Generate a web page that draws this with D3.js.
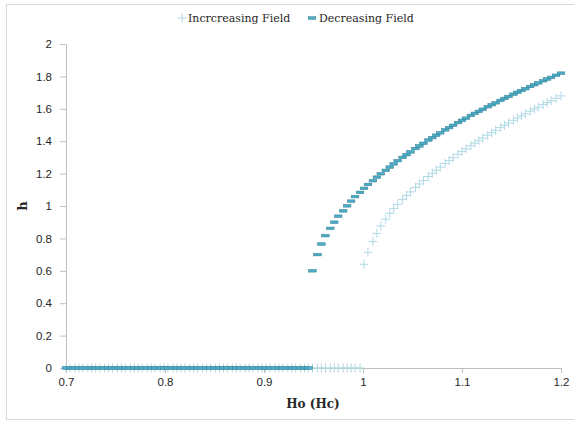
<!DOCTYPE html>
<html>
<head>
<meta charset="utf-8">
<script src="https://cdn.jsdelivr.net/npm/d3@7"></script>
<style>
  body { margin: 0; background: #fff; }
  svg { display: block; font-family: "DejaVu Serif", serif; }
  .axis path, .axis line { stroke: #bfbfbf; }
  .axis text { fill: #262626; font-size: 11.5px; }
</style>
</head>
<body>
<svg id="chart"></svg>
<script>
let width = 574,
height = 422

// applied field Ho (in units of Hc), shared by both sweeps
let fieldValues = [
  0.700, 0.704, 0.709, 0.713, 0.717, 0.722, 0.726, 0.730, 0.734, 0.739,
  0.743, 0.747, 0.752, 0.756, 0.760, 0.765, 0.769, 0.773, 0.777, 0.782,
  0.786, 0.790, 0.795, 0.799, 0.803, 0.808, 0.812, 0.816, 0.820, 0.825,
  0.829, 0.833, 0.838, 0.842, 0.846, 0.851, 0.855, 0.859, 0.863, 0.868,
  0.872, 0.876, 0.881, 0.885, 0.889, 0.894, 0.898, 0.902, 0.906, 0.911,
  0.915, 0.919, 0.924, 0.928, 0.932, 0.937, 0.941, 0.945, 0.949, 0.954,
  0.958, 0.962, 0.967, 0.971, 0.975, 0.980, 0.984, 0.988, 0.992, 0.997,
  1.001, 1.005, 1.010, 1.014, 1.018, 1.023, 1.027, 1.031, 1.035, 1.040,
  1.044, 1.048, 1.053, 1.057, 1.061, 1.066, 1.070, 1.074, 1.078, 1.083,
  1.087, 1.091, 1.096, 1.100, 1.104, 1.109, 1.113, 1.117, 1.121, 1.126,
  1.130, 1.134, 1.139, 1.143, 1.147, 1.152, 1.156, 1.160, 1.164, 1.169,
  1.173, 1.177, 1.182, 1.186, 1.190, 1.195, 1.200
]

let hIncreasing = [
  0, 0, 0, 0, 0, 0, 0, 0, 0, 0,
  0, 0, 0, 0, 0, 0, 0, 0, 0, 0,
  0, 0, 0, 0, 0, 0, 0, 0, 0, 0,
  0, 0, 0, 0, 0, 0, 0, 0, 0, 0,
  0, 0, 0, 0, 0, 0, 0, 0, 0, 0,
  0, 0, 0, 0, 0, 0, 0, 0, 0, 0,
  0, 0, 0, 0, 0, 0, 0, 0, 0, 0,
  0.64, 0.714, 0.78, 0.831, 0.877, 0.918, 0.955, 0.984, 1.010, 1.041,
  1.064, 1.087, 1.115, 1.136, 1.157, 1.182, 1.202, 1.221, 1.240, 1.262,
  1.280, 1.298, 1.319, 1.336, 1.352, 1.372, 1.388, 1.403, 1.419, 1.437,
  1.452, 1.467, 1.484, 1.498, 1.512, 1.529, 1.543, 1.556, 1.569, 1.585,
  1.598, 1.610, 1.626, 1.638, 1.650, 1.665, 1.680
]

let hDecreasing = [
  0, 0, 0, 0, 0, 0, 0, 0, 0, 0,
  0, 0, 0, 0, 0, 0, 0, 0, 0, 0,
  0, 0, 0, 0, 0, 0, 0, 0, 0, 0,
  0, 0, 0, 0, 0, 0, 0, 0, 0, 0,
  0, 0, 0, 0, 0, 0, 0, 0, 0, 0,
  0, 0, 0, 0, 0, 0, 0, 0,
  0.60, 0.70, 0.765, 0.817, 0.862, 0.90, 0.937, 0.970, 1.001, 1.030,
  1.058, 1.084, 1.109, 1.133, 1.156, 1.178, 1.199, 1.220, 1.240, 1.260,
  1.280, 1.300, 1.317, 1.334, 1.355, 1.371, 1.387, 1.407, 1.422, 1.437,
  1.452, 1.470, 1.484, 1.498, 1.515, 1.529, 1.542, 1.559, 1.572, 1.584,
  1.597, 1.613, 1.625, 1.637, 1.652, 1.664, 1.676, 1.690, 1.702, 1.713,
  1.724, 1.738, 1.749, 1.760, 1.773, 1.784, 1.794, 1.807, 1.820
]

let xTicks = [0.7, 0.8, 0.9, 1, 1.1, 1.2]
let yTicks = [0, 0.2, 0.4, 0.6, 0.8, 1, 1.2, 1.4, 1.6, 1.8, 2]
let seriesNames = ['Incrcreasing Field', 'Decreasing Field']

let canvas = d3.select('#chart')
.attr('width', width)
.attr('height', height)

// chart frame
canvas.append('rect')
.attr('x', 6.5).attr('y', 4.5)
.attr('width', 600).attr('height', 415)
.attr('fill', 'none')
.attr('stroke', '#d9d9d9')

let x = d3.scaleLinear().domain([0.7, 1.2]).range([66, 561])
let y = d3.scaleLinear().domain([0, 2]).range([368, 44])

let fmt = d3.format('~g')

canvas.append('g')
.attr('class', 'axis')
.attr('transform', 'translate(66,0)')
.call(d3.axisLeft(y).tickValues(yTicks).tickFormat(fmt).tickSize(6).tickSizeOuter(0).tickPadding(8))

canvas.append('g')
.attr('class', 'axis')
.attr('transform', 'translate(0,368)')
.call(d3.axisBottom(x).tickValues(xTicks).tickFormat(fmt).tickSize(5).tickSizeOuter(0).tickPadding(5))

canvas.append('text')
.attr('x', 313).attr('y', 408)
.attr('text-anchor', 'middle')
.attr('font-weight', 'bold')
.attr('font-size', 12)
.attr('fill', '#262626')
.text('Ho (Hc)')

canvas.append('text')
.attr('transform', 'translate(27,206) rotate(-90)')
.attr('text-anchor', 'middle')
.attr('font-weight', 'bold')
.attr('font-size', 13)
.attr('fill', '#262626')
.text('h')

let plusPath = 'M-4.5,0H4.5M0,-4.5V4.5'

let drawPlus = (sel) => sel
.attr('d', plusPath)
.attr('fill', 'none')
.attr('stroke', '#afd9e5')
.attr('stroke-width', 1)

let drawDash = (sel) => sel
.attr('x', -3.8).attr('y', -1.3)
.attr('width', 7.6).attr('height', 2.6)
.attr('fill', '#4bacc6')
.attr('stroke', '#357f94')
.attr('stroke-width', 0.5)

let pts = (vals) => fieldValues.map((f, i) => ({ f: f, h: vals[i] }))

// increasing sweep (plus markers)
canvas.append('g')
.selectAll('path')
.data(pts(hIncreasing))
.join('path')
.attr('transform', (d) => `translate(${x(d.f)},${y(d.h)})`)
.call(drawPlus)

// decreasing sweep (dash markers)
canvas.append('g')
.selectAll('rect')
.data(pts(hDecreasing))
.join('rect')
.attr('transform', (d) => `translate(${x(d.f)},${y(d.h)})`)
.call(drawDash)

// legend
let legend = canvas.append('g').attr('font-size', 11).attr('fill', '#262626')

legend.append('path')
.attr('transform', 'translate(182,18)')
.call(drawPlus)
legend.append('text').attr('x', 188).attr('y', 22).text(seriesNames[0])

legend.append('rect')
.attr('transform', 'translate(312,18)')
.call(drawDash)
legend.append('text').attr('x', 319).attr('y', 22).text(seriesNames[1])
</script>
</body>
</html>
